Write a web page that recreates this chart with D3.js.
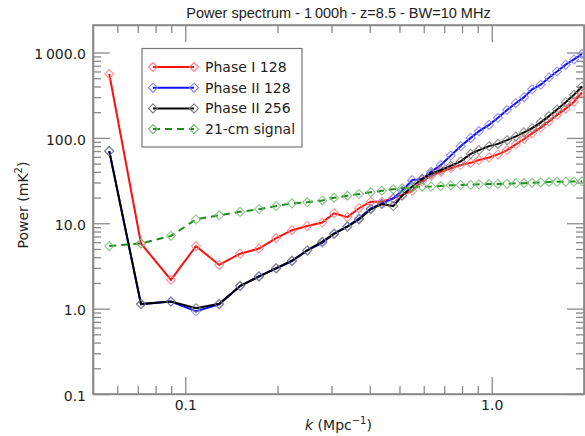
<!DOCTYPE html>
<html>
<head>
<meta charset="utf-8">
<script src="https://cdn.jsdelivr.net/npm/d3@7"></script>
<style>
  body { margin: 0; background: #fff; }
  svg text { font-family: "DejaVu Sans", sans-serif; fill: #222; }
  .title { font-family: "Liberation Sans", Arial, sans-serif; }
</style>
</head>
<body>
<svg id="chart" width="585" height="436"></svg>
<script>
// k bins (Mpc^-1)
var kValues = [0.0565, 0.0717, 0.0898, 0.1084, 0.129, 0.151, 0.174, 0.198, 0.223, 0.250,
    0.280, 0.306, 0.338, 0.369, 0.403, 0.438, 0.477, 0.510, 0.550, 0.593,
    0.634, 0.682, 0.735, 0.792, 0.854, 0.909, 0.980, 1.048, 1.122, 1.198,
    1.275, 1.354, 1.445, 1.538, 1.633, 1.743, 1.855, 1.970];

var phase1_128 = [560, 5.8, 2.17, 5.4, 3.25, 4.4, 5.05, 6.7, 8.3, 9.3,
    10.2, 13.1, 11.8, 15.0, 17.9, 17.9, 19.6, 21.5, 24, 31,
    36, 40, 44, 48, 51, 55, 59, 64, 72, 84,
    97, 113, 132, 156, 185, 220, 265, 340];

var phase2_128 = [70, 1.13, 1.21, 0.93, 1.12, 1.83, 2.4, 2.95, 3.6, 4.8,
    5.9, 7.6, 9.2, 11.4, 14.9, 17.0, 19.5, 24, 32, 33,
    40, 48, 62, 80, 100, 120, 142, 172, 212, 255,
    300, 370, 420, 510, 600, 720, 830, 960];

var phase2_256 = [70, 1.13, 1.21, 1.01, 1.14, 1.85, 2.37, 2.98, 3.65, 4.8,
    6.1, 7.5, 9.1, 11.1, 14.6, 16.8, 15.9, 21, 27, 33,
    38, 42, 47, 53, 65, 72, 80, 85, 94, 104,
    116, 130, 152, 180, 215, 262, 320, 400];

var signal21cm = [5.4, 5.8, 7.1, 11.1, 12.4, 13.6, 14.6, 15.9, 17.1, 17.6,
    18.5, 19.9, 21.0, 22.0, 23.1, 24.0, 25.0, 25.7, 26.1, 26.8,
    26.9, 27.3, 27.8, 28.1, 28.2, 28.6, 28.8, 28.9, 29.0, 29.4,
    29.5, 29.8, 30.1, 30.4, 30.6, 30.7, 30.8, 31.0];

var yMajorTicks = [0.1, 1, 10, 100, 1000];
var yTickLabels = ["0.1", "1.0", "10.0", "100.0", "1\u2009000.0"];
var xMajorTicks = [0.1, 1];
var xTickLabels = ["0.1", "1.0"];

var series = [
    { name: "Phase I 128", values: phase1_128, line: "#ff1010", marker: "#ff8080", dash: null },
    { name: "Phase II 128", values: phase2_128, line: "#1010ff", marker: "#8080ff", dash: null },
    { name: "Phase II 256", values: phase2_256, line: "#000000", marker: "#7a7a7a", dash: null },
    { name: "21-cm signal", values: signal21cm, line: "#1f8a1f", marker: "#70c070", dash: "7,5" }
];

var svg = d3.select("#chart");
var plotL = 93, plotR = 584, plotT = 25, plotB = 394;

var x = d3.scaleLog().domain([0.05, 2]).range([plotL, plotR]);
var y = d3.scaleLog().domain([0.1, 2100]).range([plotB, plotT]);

function minorsOf(majors, lo, hi) {
    var out = [];
    majors.concat([majors[0] / 10]).forEach(function(d) {
        for (var m = 2; m <= 9; m++) {
            var v = d * m;
            if (v > lo * 1.0001 && v < hi * 0.9999) out.push(v);
        }
    });
    return out;
}
var yMinor = minorsOf(yMajorTicks, 0.1, 1000);
var xMinor = minorsOf(xMajorTicks, 0.05, 2);

var axisColor = "#8a8a8a";

function styleAxis(g, hideDomain) {
    g.selectAll("path.domain").attr("stroke", axisColor).attr("stroke-width", 1.6);
    if (hideDomain) g.select("path.domain").remove();
    g.selectAll(".tick line").attr("stroke", axisColor).attr("stroke-width", 1.3);
    g.selectAll(".tick text").attr("font-size", 14).attr("fill", "#222")
        .attr("font-family", "DejaVu Sans, sans-serif");
}

// left
svg.append("g").attr("transform", "translate(" + plotL + ",0)")
    .call(d3.axisLeft(y).tickValues(yMinor).tickSize(-8).tickFormat("").tickSizeOuter(0))
    .call(function(g) { styleAxis(g, true); });
svg.append("g").attr("transform", "translate(" + plotL + ",0)")
    .call(d3.axisLeft(y).tickValues(yMajorTicks).tickSize(-17).tickSizeOuter(0).tickPadding(7)
        .tickFormat(function(d, i) { return yTickLabels[i]; }))
    .call(function(g) { styleAxis(g, false); g.selectAll(".tick text").attr("dy", "0.45em"); });
// right
svg.append("g").attr("transform", "translate(" + plotR + ",0)")
    .call(d3.axisRight(y).tickValues(yMinor).tickSize(-8).tickFormat("").tickSizeOuter(0))
    .call(function(g) { styleAxis(g, true); });
svg.append("g").attr("transform", "translate(" + plotR + ",0)")
    .call(d3.axisRight(y).tickValues(yMajorTicks).tickSize(-17).tickFormat("").tickSizeOuter(0))
    .call(function(g) { styleAxis(g, false); });
// bottom
svg.append("g").attr("transform", "translate(0," + plotB + ")")
    .call(d3.axisBottom(x).tickValues(xMinor).tickSize(-8).tickFormat("").tickSizeOuter(0))
    .call(function(g) { styleAxis(g, true); });
svg.append("g").attr("transform", "translate(0," + plotB + ")")
    .call(d3.axisBottom(x).tickValues(xMajorTicks).tickSize(-17).tickSizeOuter(0).tickPadding(6)
        .tickFormat(function(d, i) { return xTickLabels[i]; }))
    .call(function(g) { styleAxis(g, false); });
// top
svg.append("g").attr("transform", "translate(0," + plotT + ")")
    .call(d3.axisTop(x).tickValues(xMinor).tickSize(-8).tickFormat("").tickSizeOuter(0))
    .call(function(g) { styleAxis(g, true); });
svg.append("g").attr("transform", "translate(0," + plotT + ")")
    .call(d3.axisTop(x).tickValues(xMajorTicks).tickSize(-17).tickFormat("").tickSizeOuter(0))
    .call(function(g) { styleAxis(g, false); });

// frame
svg.append("rect").attr("x", plotL).attr("y", plotT).attr("width", plotR - plotL).attr("height", plotB - plotT)
    .attr("fill", "none").attr("stroke", axisColor).attr("stroke-width", 1.6);

// series
var diamond = "M0,-4.5L4.5,0L0,4.5L-4.5,0Z";
var line = d3.line()
    .x(function(d) { return x(d[0]); })
    .y(function(d) { return y(d[1]); });

series.forEach(function(s) {
    var pts = kValues.map(function(k, i) { return [k, s.values[i]]; });
    var g = svg.append("g");
    g.append("path").datum(pts)
        .attr("d", line)
        .attr("fill", "none")
        .attr("stroke", s.line)
        .attr("stroke-width", 2)
        .attr("stroke-dasharray", s.dash);
    g.selectAll("path.mk").data(pts).enter().append("path")
        .attr("class", "mk")
        .attr("d", diamond)
        .attr("transform", function(d) { return "translate(" + x(d[0]) + "," + y(d[1]) + ")"; })
        .attr("fill", "none")
        .attr("stroke", s.marker)
        .attr("stroke-opacity", 0.85)
        .attr("stroke-width", 1.1);
});

// legend
var legend = svg.append("g");
legend.append("rect").attr("x", 142).attr("y", 48.5).attr("width", 160).attr("height", 98.5)
    .attr("fill", "#fff").attr("stroke", "#777").attr("stroke-width", 1.2);
series.forEach(function(s, i) {
    var ly = 67 + i * 20.7;
    legend.append("line").attr("x1", 153).attr("x2", 194).attr("y1", ly).attr("y2", ly)
        .attr("stroke", s.line).attr("stroke-width", 2).attr("stroke-dasharray", s.dash);
    [153, 194].forEach(function(lx) {
        legend.append("path").attr("d", diamond)
            .attr("transform", "translate(" + lx + "," + ly + ")")
            .attr("fill", "none").attr("stroke", s.marker).attr("stroke-width", 1.1);
    });
    legend.append("text").attr("x", 205).attr("y", ly + 5).attr("font-size", 14).text(s.name);
});

// title and axis labels
svg.append("text").attr("class", "title")
    .attr("x", (plotL + plotR) / 2).attr("y", 18)
    .attr("text-anchor", "middle").attr("font-size", 14.5)
    .text("Power spectrum - 1\u2009000h - z=8.5 - BW=10 MHz");

var yl = svg.append("text")
    .attr("transform", "translate(28,205) rotate(-90)")
    .attr("text-anchor", "middle").attr("font-size", 14);
yl.append("tspan").text("Power (mK");
yl.append("tspan").attr("dy", -6).attr("font-size", 10).text("2");
yl.append("tspan").attr("dy", 6).text(")");

var xl = svg.append("text")
    .attr("x", (plotL + plotR) / 2).attr("y", 430)
    .attr("text-anchor", "middle").attr("font-size", 14);
xl.append("tspan").attr("font-style", "italic").text("k");
xl.append("tspan").text(" (Mpc");
xl.append("tspan").attr("dy", -6).attr("font-size", 10).text("\u22121");
xl.append("tspan").attr("dy", 6).text(")");
</script>
</body>
</html>
